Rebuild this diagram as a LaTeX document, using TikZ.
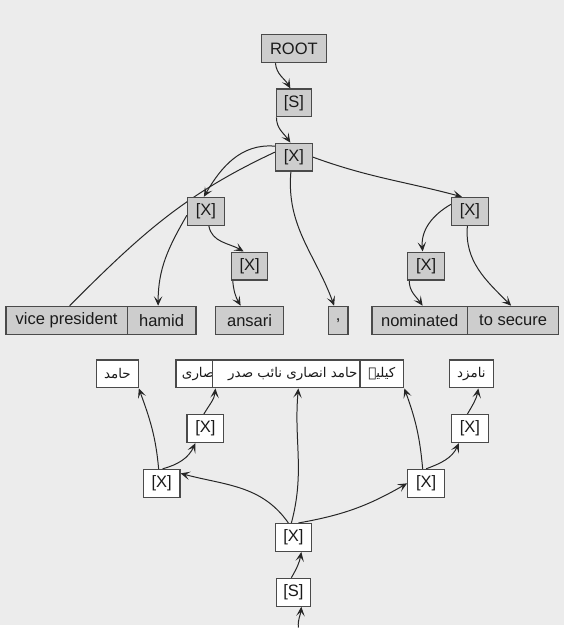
\documentclass[tikz,border=0pt]{standalone}
\usepackage{xcolor}
\usepackage{fontspec}
\setmainfont{Liberation Sans}
\newfontfamily\urdufont[Script=Arabic]{DejaVu Sans}
\TeXXeTstate=1
\usetikzlibrary{arrows.meta}
\usetikzlibrary{calc}
\definecolor{bgc}{HTML}{ECECEC}
\definecolor{boxgrey}{HTML}{CDCDCD}
\definecolor{boxline}{HTML}{4A4A4A}
\definecolor{lk}{HTML}{262626}
\definecolor{txt}{HTML}{1A1A1A}
\pgfdeclarelayer{back}
\pgfdeclarelayer{links}
\pgfsetlayers{back,links,main}
\newcommand{\ur}[1]{{\urdufont\fontsize{13.5}{15}\selectfont\beginR #1\endR}}

\begin{document}
\begin{tikzpicture}[x=1pt,y=1pt,
  font=\fontsize{16.6}{19}\selectfont,
  gbox/.style={draw=boxline,line width=1.2pt,fill=boxgrey,minimum height=28,inner sep=0pt,text=txt},
  wbox/.style={gbox,fill=white},
  link/.style={draw=lk,line width=1pt,-{Stealth[length=9.5pt,width=8.5pt,inset=4.5pt]}}]
\begin{pgfonlayer}{back}
\fill[bgc] (0,0) rectangle (567,-628);
\end{pgfonlayer}

% english tree
\node[gbox,minimum width=65] (root) at (295.5,-49) {ROOT};
\node[gbox,minimum width=35] (s1) at (295.5,-103.5) {[S]};
\node[gbox,minimum width=37] (x1) at (295.5,-158) {[X]};
\node[gbox,minimum width=37] (x2) at (207,-212.5) {[X]};
\node[gbox,minimum width=37] (x3) at (472.5,-212.5) {[X]};
\node[gbox,minimum width=36] (x4) at (251,-267.5) {[X]};
\node[gbox,minimum width=37] (x5) at (428.5,-267.5) {[X]};
\node[gbox,minimum width=122] (vp) at (67,-322) {vice president};
\node[gbox,minimum width=69] (hamid) at (162.5,-322) {hamid};
\node[gbox,minimum width=68] (ansari) at (251,-322) {ansari};
\node[gbox,minimum width=20] (comma) at (340,-322) {,};
\node[gbox,minimum width=96] (nominated) at (422,-322) {nominated};
\node[gbox,minimum width=92] (tosecure) at (516,-322) {to secure};

% urdu tree
\node[wbox,minimum width=42] (hamed) at (118,-376) {\ur{حامد}};
\node[wbox,minimum width=39] (ansaru) at (196.5,-376) {\makebox[27pt][l]{\ur{انصاری}}};
\node[wbox,minimum width=161] (naib) at (294.5,-376) {\ur{حامد انصاری نائب صدر}};
\node[wbox,minimum width=44] (kelie) at (384,-376) {\ur{کیلیے}};
\node[wbox,minimum width=44] (namzad) at (474,-376) {\ur{نامزد}};
\node[wbox,minimum width=37] (ux1) at (206.5,-431) {[X]};
\node[wbox,minimum width=37] (ux2) at (162.5,-486) {[X]};
\node[wbox,minimum width=37] (ux3) at (428.5,-486) {[X]};
\node[wbox,minimum width=37] (ux4) at (472.5,-431) {[X]};
\node[wbox,minimum width=36] (ux5) at (295,-540.5) {[X]};
\node[wbox,minimum width=34] (us) at (295,-595.5) {[S]};
\coordinate (bot) at (300,-631);

\begin{pgfonlayer}{links}
\draw[link] ([xshift=-18.5]root.south) to[out=-85,in=120] ([xshift=-3.5]s1.north);
\draw[link] ([xshift=-17.5]s1.south) to[out=-90,in=125] ([xshift=-3.5]x1.north);
\draw[link] ([yshift=11]x1.west) to[out=175,in=60] ([xshift=-2]x2.north);
\draw[link,-] ([yshift=5]x1.west) to[out=-155,in=45] ([xshift=3]vp.north);
\draw[link] ([xshift=-3]x1.south) to[out=-95,in=110] ([xshift=-4]comma.north);
\draw[link] (x1.east) to[out=-20,in=165] ([xshift=-8]x3.north);
\draw[link] ([yshift=-4]x2.west) to[out=-120,in=90] ([xshift=-3.5]hamid.north);
\draw[link] ([xshift=3]x2.south) to[out=-80,in=150] ([xshift=-6]x4.north);
\draw[link] ([xshift=-17]x4.south) to[out=-85,in=120] ([xshift=-9]ansari.north);
\draw[link] ([yshift=7]x3.west) to[out=-150,in=95] ([xshift=-3.5]x5.north);
\draw[link] ([xshift=-2.5]x3.south) to[out=-95,in=135] ([xshift=-2]tosecure.north);
\draw[link] ([xshift=-17]x5.south) to[out=-90,in=125] ([xshift=3]nominated.north);
% urdu side
\draw[link] (bot) to[out=95,in=-95] ([xshift=8]us.south);
\draw[link] ([xshift=-2]us.north) to[out=60,in=-100] ([xshift=8]ux5.south);
\draw[link] ([xshift=-5]ux5.north) to[out=125,in=-15] ([yshift=10]ux2.east);
\draw[link] ([xshift=-2]ux5.north) to[out=75,in=-95] ([xshift=5.5]naib.south);
\draw[link] ([xshift=5]ux5.north) to[out=10,in=-150] (ux3.west);
\draw[link] ([xshift=-3]ux2.north) to[out=95,in=-70] (hamed.south east);
\draw[link] ([xshift=1]ux2.north) to[out=15,in=-115] ([xshift=-10]ux1.south);
\draw[link] ([xshift=-1.5]ux1.north) to[out=60,in=-95] (ansaru.south east);
\draw[link] ([xshift=-3.5]ux3.north) to[out=95,in=-70] (kelie.south east);
\draw[link] (ux3.north) to[out=20,in=-115] ([xshift=-11]ux4.south);
\draw[link] ([xshift=-2.5]ux4.north) to[out=60,in=-100] ([xshift=7]namzad.south);
\end{pgfonlayer}
\end{tikzpicture}
\end{document}
